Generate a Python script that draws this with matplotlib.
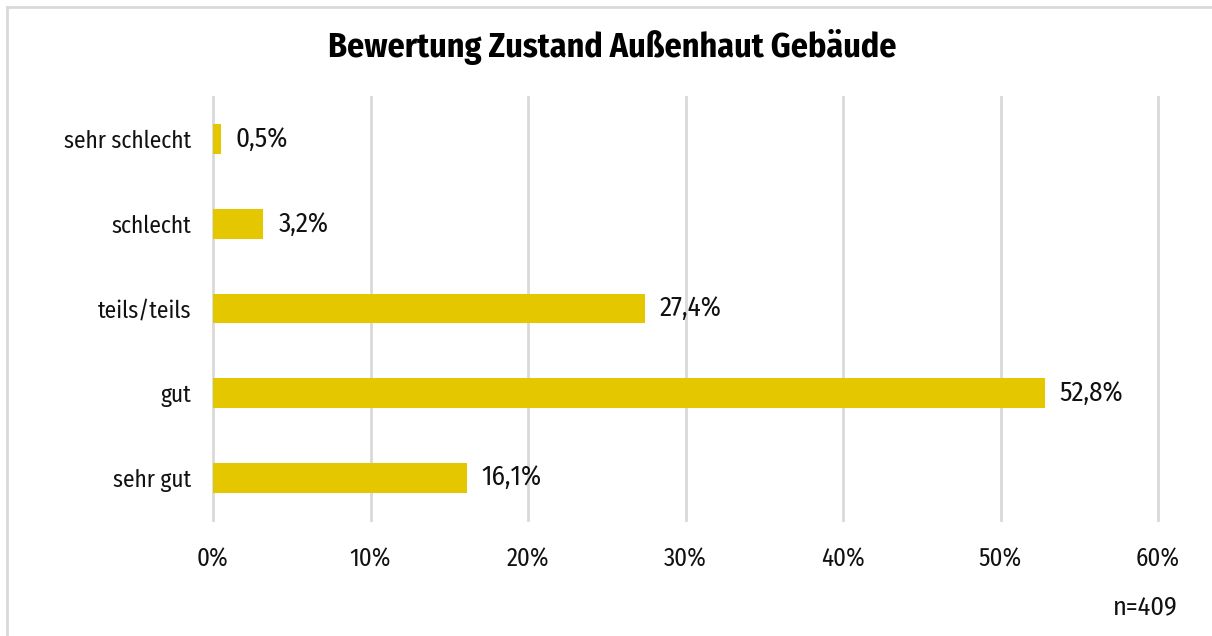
import matplotlib
matplotlib.use("Agg")
import matplotlib.pyplot as plt
from matplotlib.lines import Line2D
from matplotlib import font_manager
from matplotlib.font_manager import FontProperties

categories = ["sehr schlecht", "schlecht", "teils/teils", "gut", "sehr gut"]
values = [0.5, 3.2, 27.4, 52.8, 16.1]
value_labels = ["0,5%", "3,2%", "27,4%", "52,8%", "16,1%"]
xticks = [0, 10, 20, 30, 40, 50, 60]
xtick_labels = ["0%", "10%", "20%", "30%", "40%", "50%", "60%"]
title = "Bewertung Zustand Außenhaut Gebäude"
note = "n=409"

candidates = ["Fira Sans Condensed", "PT Sans Narrow", "Roboto Condensed",
              "Open Sans Condensed", "IBM Plex Sans Condensed"]


def find_font(weight):
    entries = font_manager.fontManager.ttflist
    for cand in candidates:
        matches = [f for f in entries if f.name == cand and f.style == 'normal']
        if matches:
            best = min(matches, key=lambda f: abs(int(f.weight) - weight))
            return best.fname
    return None


reg_file = find_font(400)
bold_file = find_font(700)


def fp(fname, size, bold=False):
    if fname:
        return FontProperties(fname=fname, size=size)
    return FontProperties(family="DejaVu Sans", size=size,
                          weight='bold' if bold else 'normal')


W, H = 1212, 636
fig = plt.figure(figsize=(W/100, H/100), dpi=100)
renderer = fig.canvas.get_renderer()


def fit_size(text, target_px, fname, bold=False):
    t = fig.text(0, 0, text, fontproperties=fp(fname, 20, bold))
    w = t.get_window_extent(renderer).width
    t.remove()
    return 20 * target_px / w


cat_font = fp(reg_file, fit_size("sehr schlecht", 128, reg_file))
tick_font = fp(reg_file, fit_size("60%", 44, reg_file))
val_font = fp(reg_file, fit_size("52,8%", 64, reg_file))
note_font = fp(reg_file, fit_size(note, 65, reg_file))
tit = fp(bold_file, fit_size(title, 570, bold_file, True), True)

ax = fig.add_axes([213/W, 1-520/H, (1158-213)/W, (520-97)/H])

color = "#E5C700"
ypos = list(range(len(categories)))
ax.barh(ypos, values, height=0.35, color=color, zorder=3)
ax.set_ylim(len(categories)-0.5, -0.5)
ax.set_xlim(0, 60)
ax.set_yticks(ypos)
ax.set_yticklabels(categories, fontproperties=cat_font, color='#111111')
ax.set_xticks(xticks)
ax.set_xticklabels(xtick_labels, fontproperties=tick_font, color='#111111')
ax.tick_params(axis='x', length=0, pad=19)
ax.tick_params(axis='y', length=0, pad=16)
ax.grid(axis='x', color='#D9D9D9', linewidth=2, zorder=0)
for gl in ax.get_xgridlines():
    gl.set_clip_on(False)
for s in ax.spines.values():
    s.set_visible(False)

for y, v, lab in zip(ypos, values, value_labels):
    ax.annotate(lab, (v, y), xytext=(15, 0), textcoords='offset pixels',
                va='center', ha='left', fontproperties=val_font, color='#111111')

fig.text(612/W, 1-47/H, title, ha='center', va='center', fontproperties=tit,
         color='#000000')
fig.text(1178/W, 1-607/H, note, ha='right', va='center', fontproperties=note_font,
         color='#111111')

fig.add_artist(Line2D([6.5/W, 1], [1-6.5/H, 1-6.5/H], transform=fig.transFigure,
                      color='#D9D9D9', linewidth=2))
fig.add_artist(Line2D([6.5/W, 6.5/W], [0, 1-6.5/H], transform=fig.transFigure,
                      color='#D9D9D9', linewidth=2))

fig.savefig("out.png", dpi=100)
